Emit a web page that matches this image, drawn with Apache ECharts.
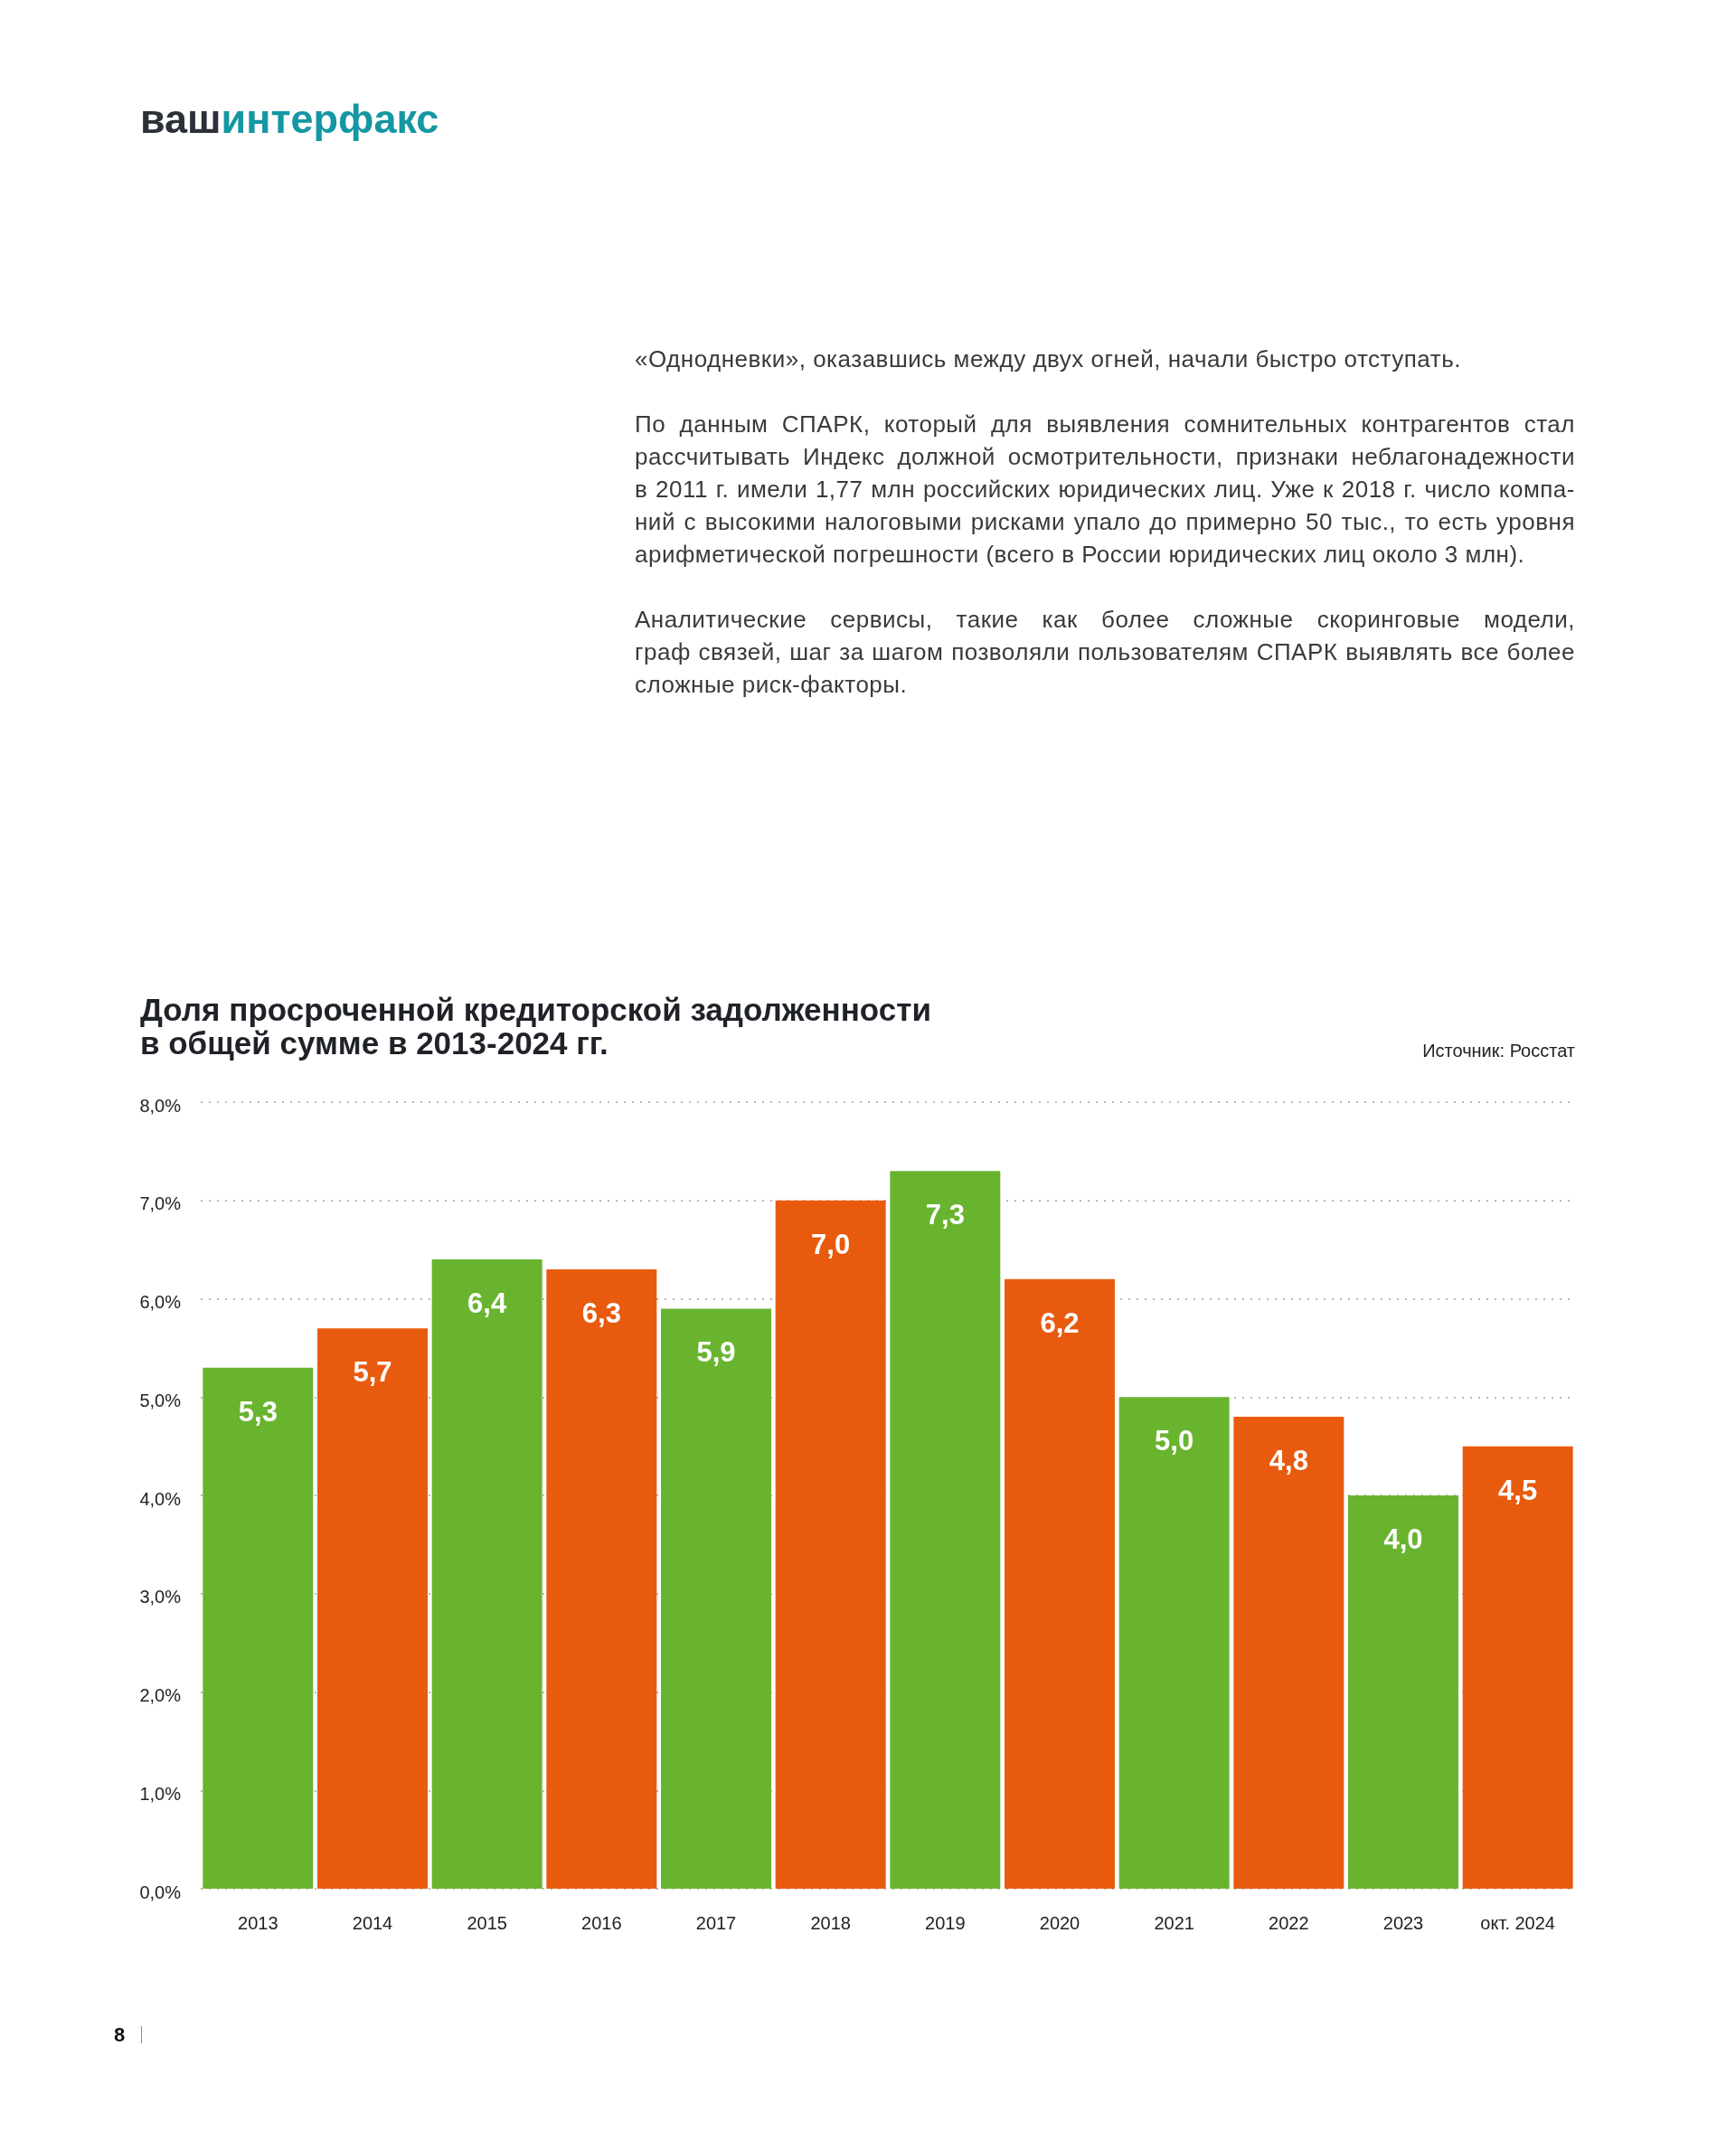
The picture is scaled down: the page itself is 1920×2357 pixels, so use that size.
<!DOCTYPE html>
<html>
<head>
<meta charset="utf-8">
<script src="https://cdn.jsdelivr.net/npm/echarts@6/dist/echarts.min.js"></script>
<style>
  html, body { margin: 0; padding: 0; background: #fff; }
  body { width: 1920px; height: 2357px; position: relative; overflow: hidden; font-family: "Liberation Sans", Arial, sans-serif; }
  #chart { position: absolute; left: 0; top: 0; width: 1920px; height: 2357px; }
  .logo { position: absolute; left: 155px; top: 110px; font-size: 45px; line-height: 44px; font-weight: bold; letter-spacing: 0px; white-space: nowrap; z-index: 2; }
  .logo .a { color: #2c3039; }
  .logo .b { color: #1597a3; }
  .body { position: absolute; left: 702px; top: 379px; width: 1040px; font-size: 26px; line-height: 36px; color: #3a3a3a; z-index: 2; }
  .body .p { margin: 0 0 36px 0; }
  .body .ln { white-space: nowrap; width: 1040px; text-align: justify; text-align-last: justify; }
  .body .ln.last, .body .ln.measure { text-align: left; text-align-last: left; }
  .body .ln span { letter-spacing: 0.5px; }
  .pg { position: absolute; left: 126px; top: 2237px; font-size: 22px; line-height: 28px; font-weight: bold; color: #111; z-index: 2; }
  .pg span { display: inline-block; width: 1px; height: 19px; background: #888; margin-left: 18px; vertical-align: -2px; }
</style>
</head>
<body>
<div id="chart"></div>
<div class="logo"><span class="a">ваш</span><span class="b">интерфакс</span></div>
<div class="body">
  <div class="p">
    <div class="ln last"><span>«Однодневки», оказавшись между двух огней, начали быстро отступать.</span></div>
  </div>
  <div class="p">
    <div class="ln"><span>По данным СПАРК, который для выявления сомнительных контрагентов стал</span></div>
    <div class="ln"><span>рассчитывать Индекс должной осмотрительности, признаки неблагонадежности</span></div>
    <div class="ln"><span>в 2011 г. имели 1,77 млн российских юридических лиц. Уже к 2018 г. число компа-</span></div>
    <div class="ln"><span>ний с высокими налоговыми рисками упало до примерно 50 тыс., то есть уровня</span></div>
    <div class="ln last"><span>арифметической погрешности (всего в России юридических лиц около 3 млн).</span></div>
  </div>
  <div class="p">
    <div class="ln"><span>Аналитические сервисы, такие как более сложные скоринговые модели,</span></div>
    <div class="ln"><span>граф связей, шаг за шагом позволяли пользователям СПАРК выявлять все более</span></div>
    <div class="ln last"><span>сложные риск-факторы.</span></div>
  </div>
</div>
<div class="pg">8<span></span></div>
<script>
// keep justified lines within the column (measure natural width with left alignment)
document.querySelectorAll('.body .ln').forEach(function (ln) {
  const s = ln.querySelector('span');
  ln.classList.add('measure');
  let ls = 0.5;
  while (s.getBoundingClientRect().width > 1030 && ls > -1.5) {
    ls -= 0.1;
    s.style.letterSpacing = ls.toFixed(2) + 'px';
  }
  ln.classList.remove('measure');
});

const categories = ['2013', '2014', '2015', '2016', '2017', '2018', '2019', '2020', '2021', '2022', '2023', 'окт. 2024'];
const shareValues = [5.3, 5.7, 6.4, 6.3, 5.9, 7.0, 7.3, 6.2, 5.0, 4.8, 4.0, 4.5];
const yTickLabels = ['0,0%', '1,0%', '2,0%', '3,0%', '4,0%', '5,0%', '6,0%', '7,0%', '8,0%'];
const chartTitle = 'Доля просроченной кредиторской задолженности\nв общей сумме в 2013-2024 гг.';
const sourceText = 'Источник: Росстат';

const GREEN = '#69b42f';
const ORANGE = '#e85b0f';
const FONT = '"Liberation Sans", Arial, sans-serif';

const chart = echarts.init(document.getElementById('chart'), null, { renderer: 'canvas' });
chart.setOption({
  animation: false,
  backgroundColor: 'transparent',
  title: [
    {
      text: chartTitle,
      left: 155, top: 1101, padding: 0,
      textStyle: { fontFamily: FONT, fontSize: 35, fontWeight: 'bold', lineHeight: 37, color: '#1f2228' }
    },
    {
      text: sourceText,
      right: 178, top: 1153, padding: 0,
      textStyle: { fontFamily: FONT, fontSize: 20, fontWeight: 'normal', lineHeight: 20, color: '#222' }
    }
  ],
  grid: { left: 222, right: 178, top: 1219, bottom: 268, containLabel: false },
  xAxis: {
    type: 'category',
    data: categories,
    axisLine: { show: false },
    axisTick: { show: false },
    axisLabel: { margin: 29, fontFamily: FONT, fontSize: 20, color: '#222' }
  },
  yAxis: {
    type: 'value',
    min: 0, max: 8, interval: 1,
    axisLine: { show: false },
    axisTick: { show: false },
    axisLabel: {
      margin: 22, fontFamily: FONT, fontSize: 20, color: '#222',
      verticalAlign: 'top', lineHeight: 10,
      formatter: function (v) { return yTickLabels[Math.round(v)]; }
    },
    splitLine: { show: true, lineStyle: { color: '#b8b8b8', width: 2, type: [2, 7] } }
  },
  series: [{
    type: 'bar',
    data: shareValues,
    barCategoryGap: '3.7%',
    itemStyle: { color: function (p) { return p.dataIndex % 2 === 0 ? GREEN : ORANGE; } },
    label: {
      show: true, position: 'insideTop', distance: 35,
      fontFamily: FONT, fontSize: 31, fontWeight: 'bold', color: '#fff',
      formatter: function (p) { return p.value.toFixed(1).replace('.', ','); }
    }
  }]
});
</script>
</body>
</html>
